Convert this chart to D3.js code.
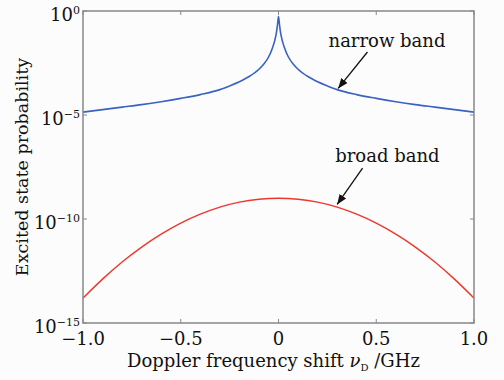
<!DOCTYPE html>
<meta charset="utf-8" />
<style type="text/css">
    body {
        margin: 0;
        background: #fcfcfc;
    }

    text {
        font-family: "DejaVu Serif", serif;
        fill: #111;
    }

    .frame {
        fill: none;
        stroke: #888;
        stroke-width: 1.5;
    }

    .tick-mark {
        stroke: #888;
        stroke-width: 1;
    }
</style>

<body>
</body>
<script src="https://d3js.org/d3.v7.min.js"></script>
<script>
    // narrow band curve: frequency shift (GHz) and log10 of probability
    let narrowShift = [-1.0, -0.9, -0.8, -0.7, -0.6, -0.5, -0.4, -0.3, -0.25, -0.2, -0.15, -0.1, -0.075, -0.05, -0.03, -0.02, -0.01, -0.005, 0,
        0.005, 0.01, 0.02, 0.03, 0.05, 0.075, 0.1, 0.15, 0.2, 0.25, 0.3, 0.4, 0.5, 0.6, 0.7, 0.8, 0.9, 1.0];
    let narrowLog = [-4.86, -4.74, -4.62, -4.5, -4.36, -4.2, -4.02, -3.78, -3.6, -3.4, -3.15, -2.8, -2.55, -2.2, -1.75, -1.45, -1.0, -0.65, -0.27,
        -0.65, -1.0, -1.45, -1.75, -2.2, -2.55, -2.8, -3.15, -3.4, -3.6, -3.78, -4.02, -4.2, -4.36, -4.5, -4.62, -4.74, -4.86];

    // broad band curve
    let broadShift = [-1.0, -0.9, -0.8, -0.7, -0.6, -0.5, -0.4, -0.3, -0.2, -0.1, 0,
        0.1, 0.2, 0.3, 0.4, 0.5, 0.6, 0.7, 0.8, 0.9, 1.0];
    let broadLog = [-13.8, -12.89, -12.07, -11.35, -10.73, -10.2, -9.77, -9.43, -9.19, -9.05, -9.0,
        -9.05, -9.19, -9.43, -9.77, -10.2, -10.73, -11.35, -12.07, -12.89, -13.8];

    let xTicks = [-1.0, -0.5, 0, 0.5, 1.0];
    let xTickLabels = ["\u22121.0", "\u22120.5", "0", "0.5", "1.0"];
    let yTickExp = [0, -5, -10, -15];

    let margin = {
            top: 11,
            right: 30,
            bottom: 57,
            left: 83
        },
        width = 504 - margin.left - margin.right,
        height = 380 - margin.top - margin.bottom;

    let svg = d3.select("body").append("svg")
        .attr("width", 504)
        .attr("height", 380)
        .append("g")
        .attr("transform", "translate(" + margin.left + "," + margin.top + ")");

    let xScale = d3.scaleLinear()
        .domain([-1, 1])
        .range([0, width]);

    let yScale = d3.scaleLog()
        .domain([1e-15, 1])
        .range([height, 0]);

    let line = d3.line()
        .x(function(d) {
            return xScale(d[0]);
        })
        .y(function(d) {
            return yScale(Math.pow(10, d[1]));
        });

    let narrow = narrowShift.map(function(v, i) {
        return [v, narrowLog[i]];
    });
    let broad = broadShift.map(function(v, i) {
        return [v, broadLog[i]];
    });

    // inward ticks on all four sides
    let tickLen = 4;
    xTicks.forEach(function(t) {
        svg.append("line").attr("class", "tick-mark")
            .attr("x1", xScale(t)).attr("x2", xScale(t))
            .attr("y1", height).attr("y2", height - tickLen);
        svg.append("line").attr("class", "tick-mark")
            .attr("x1", xScale(t)).attr("x2", xScale(t))
            .attr("y1", 0).attr("y2", tickLen);
    });
    yTickExp.forEach(function(e) {
        let y = yScale(Math.pow(10, e));
        svg.append("line").attr("class", "tick-mark")
            .attr("x1", 0).attr("x2", tickLen)
            .attr("y1", y).attr("y2", y);
        svg.append("line").attr("class", "tick-mark")
            .attr("x1", width).attr("x2", width - tickLen)
            .attr("y1", y).attr("y2", y);
    });

    svg.append("path")
        .datum(broad)
        .attr("fill", "none")
        .attr("stroke", "#f0362c")
        .attr("stroke-width", 1.4)
        .attr("d", line.curve(d3.curveMonotoneX));

    svg.append("path")
        .datum(narrow)
        .attr("fill", "none")
        .attr("stroke", "#3a62c2")
        .attr("stroke-width", 1.6)
        .attr("d", line.curve(d3.curveMonotoneX));

    svg.append("rect")
        .attr("class", "frame")
        .attr("x", 0).attr("y", 0)
        .attr("width", width).attr("height", height);

    // x tick labels
    svg.selectAll(".xlabel")
        .data(xTicks)
        .enter().append("text")
        .attr("class", "xlabel")
        .attr("x", function(d) {
            return xScale(d);
        })
        .attr("y", height + 22)
        .attr("text-anchor", "middle")
        .style("font-size", "18px")
        .text(function(d, i) {
            return xTickLabels[i];
        });

    // y tick labels as 10^n
    yTickExp.forEach(function(e) {
        let t = svg.append("text")
            .attr("x", -3)
            .attr("y", yScale(Math.pow(10, e)) + 9.5)
            .attr("text-anchor", "end")
            .style("font-size", "18px");
        t.append("tspan").text("10");
        t.append("tspan")
            .attr("dy", -7)
            .style("font-size", "11px")
            .text(e == 0 ? "0" : "\u2212" + (-e));
    });

    // axis titles
    let xt = svg.append("text")
        .attr("x", width / 2 - 5)
        .attr("y", height + 44)
        .attr("text-anchor", "middle")
        .style("font-size", "18px");
    xt.append("tspan").text("Doppler frequency shift ");
    xt.append("tspan").style("font-style", "italic").text("\u03bd");
    xt.append("tspan").attr("dy", 4).style("font-size", "10px").text("D");
    xt.append("tspan").attr("dy", -4).text(" /GHz");

    svg.append("text")
        .attr("transform", "rotate(-90)")
        .attr("x", -height / 2)
        .attr("y", -margin.left + 28)
        .attr("text-anchor", "middle")
        .style("font-size", "17.5px")
        .text("Excited state probability");

    // annotations with arrows
    svg.append("defs").append("marker")
        .attr("id", "head")
        .attr("viewBox", "0 0 10 10")
        .attr("refX", 10).attr("refY", 5)
        .attr("markerWidth", 10).attr("markerHeight", 10)
        .attr("markerUnits", "userSpaceOnUse")
        .attr("orient", "auto")
        .append("path")
        .attr("d", "M0,1 L10,5 L0,9 Z")
        .attr("fill", "#111");

    let notes = [
        {text: "narrow band", tx: 0.256, ty: -1.73, x1: 0.455, y1: -1.97, x2: 0.305, y2: -3.72},
        {text: "broad band", tx: 0.29, ty: -7.26, x1: 0.43, y1: -7.55, x2: 0.3, y2: -9.3}
    ];
    notes.forEach(function(n) {
        svg.append("text")
            .attr("x", xScale(n.tx))
            .attr("y", yScale(Math.pow(10, n.ty)))
            .style("font-size", "18px")
            .text(n.text);
        svg.append("line")
            .attr("x1", xScale(n.x1)).attr("y1", yScale(Math.pow(10, n.y1)))
            .attr("x2", xScale(n.x2)).attr("y2", yScale(Math.pow(10, n.y2)))
            .attr("stroke", "#111")
            .attr("stroke-width", 1.3)
            .attr("marker-end", "url(#head)");
    });
</script>
